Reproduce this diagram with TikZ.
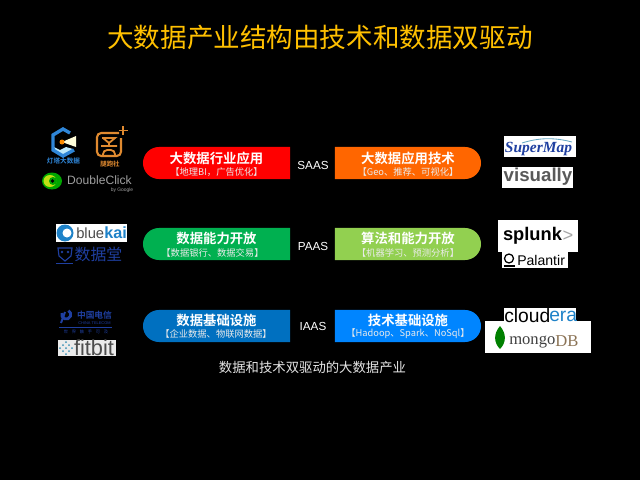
\documentclass[tikz,border=0pt]{standalone}
\usepackage{fontspec}
\setmainfont{Liberation Sans}
\newfontfamily\cjk{Noto Sans CJK SC}
\newfontfamily\cjkbf{Noto Sans CJK SC Bold}
\newfontfamily\cjkwide[LetterSpace=90]{Noto Sans CJK SC}
\newfontfamily\logoserif{Liberation Serif}
\usetikzlibrary{shapes.misc}
\definecolor{titleyellow}{HTML}{FFC000}
\definecolor{redapp}{HTML}{FF0000}
\definecolor{orangetech}{HTML}{FF6600}
\definecolor{greenopen}{HTML}{00B050}
\definecolor{lightgreen}{HTML}{92D050}
\definecolor{blueinfra}{HTML}{0070C0}
\definecolor{lightblue}{HTML}{0085FF}
\definecolor{logoblue}{HTML}{1F3FA0}
\definecolor{logoorange}{HTML}{E08A30}
\definecolor{hexblue}{HTML}{2F86D8}
\definecolor{kaiblue}{HTML}{1E82C8}
\definecolor{dbbrown}{HTML}{8B7355}
\tikzset{
	pillleft/.style={rounded rectangle, rounded rectangle east arc=none, minimum width=3.675cm, minimum height=0.8cm, inner sep=0pt, fill=#1},
	pillright/.style={rounded rectangle, rounded rectangle west arc=none, minimum width=3.65cm, minimum height=0.8cm, inner sep=0pt, fill=#1},
	headtext/.style={text=white, font=\cjkbf\fontsize{9.5}{11}\selectfont, inner sep=0pt},
	subtext/.style={text=white!92!black, font=\cjk\fontsize{6.6}{8}\selectfont, inner sep=0pt},
	layertext/.style={text=white, font=\fontsize{8.3}{10}\selectfont, inner sep=0pt},
	logotext/.style={inner sep=0pt, anchor=west}
}

\begin{document}
\begin{tikzpicture}[x=0.025cm, y=-0.025cm]
	\fill [black] (0,0) rectangle (640,480);
	\useasboundingbox (0,0) rectangle (640,480);

	\node [text=titleyellow, font=\cjk\fontsize{18.9}{22}\selectfont, inner sep=0pt] (title) at (320,37) {大数据产业结构由技术和数据双驱动};

	% three layers
	\node [pillleft=redapp] (app) at (216.5,163) {};
	\node [pillright=orangetech] (apptech) at (408,163) {};
	\node [pillleft=greenopen] (open) at (216.5,244) {};
	\node [pillright=lightgreen] (opentech) at (408,244) {};
	\node [pillleft=blueinfra] (infra) at (216.5,326) {};
	\node [pillright=lightblue] (infratech) at (408,326) {};

	\node [headtext] (apphead) at (216.5,158) {大数据行业应用};
	\node [subtext] (appsub) at (216.5,172) {【地理BI，广告优化】};
	\node [headtext] (apptechhead) at (408,158) {大数据应用技术};
	\node [subtext] (apptechsub) at (408,172) {【Geo、推荐、可视化】};
	\node [headtext] (openhead) at (216.5,238) {数据能力开放};
	\node [subtext] (opensub) at (212.5,252.5) {【数据银行、数据交易】};
	\node [headtext] (opentechhead) at (408,238) {算法和能力开放};
	\node [subtext] (opentechsub) at (408,252.5) {【机器学习、预测分析】};
	\node [headtext] (infrahead) at (216.5,320) {数据基础设施};
	\node [subtext] (infrasub) at (216,333.5) {【企业数据、物联网数据】};
	\node [headtext] (infratechhead) at (408,320) {技术基础设施};
	\node [subtext] (infratechsub) at (408,333.5) {【Hadoop、Spark、NoSql】};

	\node [layertext] (saas) at (313,165) {SAAS};
	\node [layertext] (paas) at (313,246) {PAAS};
	\node [layertext] (iaas) at (313,326) {IAAS};

	\node [text=white!90!black, font=\cjk\fontsize{9.5}{11}\selectfont, inner sep=0pt] (caption) at (312.5,367) {数据和技术双驱动的大数据产业};

	% logos, left column
	\fill [white!75!cyan] (54,147) -- (60,150) -- (66,147) -- (73,149) -- (63,156) -- (55,151) -- cycle;
	\draw [line width=2.4pt, color=hexblue] (70,133) -- (63,129) -- (53,135) -- (53,150) -- (63,156) -- (74,150);
	\fill [white!85!yellow] (62,142) -- (76,136) -- (76,147) -- cycle;
	\fill [orange!90!yellow] (62,142) circle (2.5);
	\node [text=hexblue, font=\cjkbf\fontsize{4.7}{5}\selectfont, inner sep=0pt] (dengta) at (63.5,161) {灯塔大数据};

	\draw [logoorange, line width=1.5pt, rounded corners=3pt] (119,133) -- (97,133) -- (97,156) -- (121,156) -- (121,138);
	\draw [logoorange, line width=1.3pt] (102,138) -- (115,138) -- (109,143) -- (103,138) (101,146) -- (117,146) (109,143) -- (109,146);
	\draw [logoorange, line width=1.3pt, rounded corners=3pt] (103,156) -- (103,150) -- (115,150) -- (115,156);
	\draw [logoorange, line width=1.3pt] (123,126) -- (123,135) (118.5,130.5) -- (127.5,130.5);
	\node [text=logoorange, font=\cjkbf\fontsize{4.6}{5}\selectfont, inner sep=0pt] (paoshe) at (110,164.5) {腿跑社};

	\fill [green!65!black] (52,181) ellipse (10 and 8.5);
	\fill [yellow!75!green] (50,181) ellipse (6.5 and 6);
	\fill [green!65!black] (53,181) ellipse (4 and 4);
	\fill [black] (52.5,181) circle (1.8);
	\node [text=gray!75!white, font=\fontsize{8.6}{10}\selectfont, inner sep=0pt] (doubleclick) at (99.5,180) {DoubleClick};
	\node [text=gray!75!white, font=\fontsize{3.5}{4}\selectfont, inner sep=0pt] (bygoogle) at (122,190) {by Google};

	\fill [white] (56,224) rectangle (127,242);
	\fill [kaiblue] (65,233) circle (8.5);
	\fill [white] (67,233) circle (4.5);
	\node [logotext, text=gray!60!black, font=\fontsize{10.5}{12}\selectfont] (blue) at (76,233) {blue};
	\node [logotext, text=kaiblue, font=\bfseries\fontsize{11.5}{13}\selectfont] (kai) at (104,233) {kai};

	\draw [logoblue, line width=0.8pt] (58,248) -- (72,248) -- (71,256) -- (65,261) -- (59,256) -- cycle;
	\draw [logoblue, line width=0.6pt] (56,263) -- (73,263);
	\fill [logoblue] (62,252) circle (1.3) (68,252) circle (1.3);
	\node [text=logoblue, font=\cjk\fontsize{11.3}{13}\selectfont, inner sep=0pt] (shujutang) at (98.5,254.5) {数据堂};

	\draw [logoblue, line width=2pt] (62,313) arc (200:-60:4.5);
	\draw [logoblue, line width=1.4pt] (65,312) -- (61,323);
	\node [text=logoblue, font=\cjkbf\fontsize{6.2}{8}\selectfont, inner sep=0pt] (telecom) at (94.5,315) {中国电信};
	\node [text=logoblue, font=\fontsize{2.8}{4}\selectfont, inner sep=0pt] (telecomen) at (94.5,323) {CHINA TELECOM};
	\draw [logoblue, line width=0.4pt] (59,327) -- (112,327);
	\node [text=logoblue, font=\cjkwide\fontsize{3}{4}\selectfont, inner sep=0pt] (telecomzh) at (86,332) {世界触手可及};

	\fill [white!92!black] (58,340) rectangle (116,356);
	\foreach \x/\y in {63/345, 63/351, 66/342, 66/348, 66/354, 69/345, 69/351, 72/348, 60/348}
		\fill [cyan!70!black] (\x,\y) circle (1);
	\node [text=gray!60!black, font=\fontsize{15.5}{17}\selectfont, inner sep=0pt] (fitbit) at (94,347.5) {fitbit};

	% logos, right column
	\fill [white] (504,136) rectangle (576,157);
	\node [text=logoblue, font=\logoserif\bfseries\itshape\fontsize{11}{13}\selectfont, inner sep=0pt] (supermap) at (538.5,149) {SuperMap};
	\draw [cyan!50!gray, line width=0.6pt] (522,143) .. controls (538,138) and (553,137) .. (572,142);

	\fill [white] (502,167) rectangle (573,188);
	\node [text=gray!70!black, font=\bfseries\fontsize{13.3}{15}\selectfont, inner sep=0pt] (visually) at (538,176.5) {visually};

	\fill [white] (498,220) rectangle (578,252);
	\node [text=black, font=\bfseries\fontsize{13}{15}\selectfont, inner sep=0pt] (splunk) at (532.5,236) {splunk};
	\node [text=gray!70!white, font=\fontsize{13}{15}\selectfont, inner sep=0pt] (splunkmark) at (568,236.5) {>};

	\fill [white] (502,252) rectangle (568,268);
	\draw [black, line width=0.9pt] (509,258.5) circle (4.5);
	\draw [black, line width=0.9pt] (503.5,266) -- (514.5,266);
	\node [logotext, text=black, font=\fontsize{10}{12}\selectfont] (palantir) at (517,260) {Palantir};

	\fill [white] (485,321) rectangle (591,353);
	\fill [green!50!black] (500,326) .. controls (493,334) and (494,343) .. (500,349) .. controls (506,343) and (507,334) .. (500,326) -- cycle;
	\node [logotext, text=black!75!white, font=\logoserif\fontsize{11.8}{14}\selectfont] (mongo) at (509,342) {mongo};
	\node [logotext, text=dbbrown, font=\logoserif\fontsize{11.8}{14}\selectfont] (db) at (555,341) {DB};

	\fill [white] (504,308) rectangle (576,325);
	\node [logotext, text=black, font=\fontsize{13.7}{15}\selectfont] (cloud) at (504,316) {cloud};
	\node [logotext, text=kaiblue, font=\fontsize{13.7}{15}\selectfont] (era) at (549,316) {era};
\end{tikzpicture}
\end{document}
